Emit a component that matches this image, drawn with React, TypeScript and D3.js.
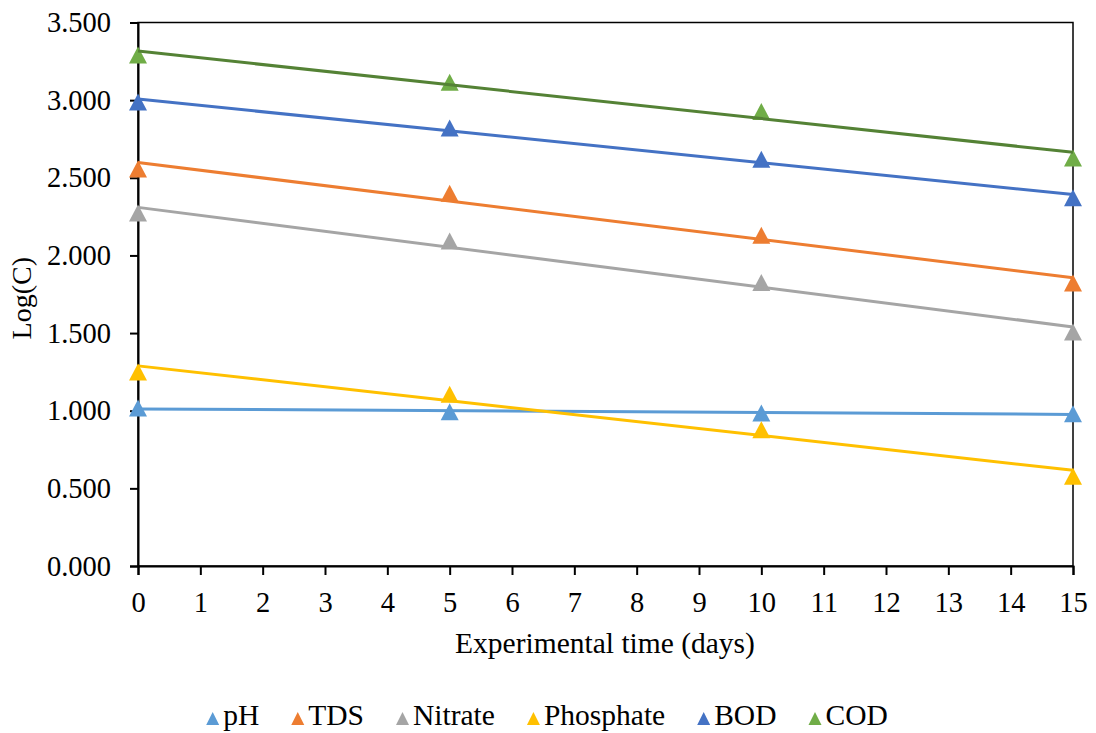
import React, { useEffect, useRef } from "react";
import * as d3 from "d3";

const days = [0, 5, 10, 15];
const seriesNames = ["pH", "TDS", "Nitrate", "Phosphate", "BOD", "COD"];
const pH = [1.017, 0.993, 0.986, 0.98];
const TDS = [2.556, 2.4, 2.13, 1.822];
const Nitrate = [2.273, 2.093, 1.825, 1.507];
const Phosphate = [1.249, 1.106, 0.877, 0.578];
const BOD = [2.988, 2.82, 2.619, 2.371];
const COD = [3.29, 3.115, 2.927, 2.628];
const markerColors = ["#5B9BD5", "#ED7D31", "#A5A5A5", "#FFC000", "#4472C4", "#70AD47"];
const lineColors = ["#5B9BD5", "#ED7D31", "#A5A5A5", "#FFC000", "#4472C4", "#548235"];
const xTicks = d3.range(0, 16);
const yTicks = [0, 0.5, 1, 1.5, 2, 2.5, 3, 3.5];

const W = 1096, H = 733;
const M = { left: 138, right: 1073, top: 22.5, bottom: 566 };
const FONT = "'Liberation Serif', 'Times New Roman', serif";

function tri(cx: number, cy: number, w: number, h: number) {
  return `M${cx},${cy - h / 2}L${cx + w / 2},${cy + h / 2}L${cx - w / 2},${cy + h / 2}Z`;
}

export default function App() {
  const ref = useRef<SVGSVGElement>(null);
  useEffect(() => {
    const svg = d3.select(ref.current);
    svg.selectAll("*").remove();
    const data = [pH, TDS, Nitrate, Phosphate, BOD, COD];
    const x = d3.scaleLinear().domain([0, 15]).range([M.left, M.right]);
    const y = d3.scaleLinear().domain([0, 3.5]).range([M.bottom, M.top]);

    const g = svg.append("g");
    g.append("rect").attr("x", M.left).attr("y", M.top).attr("width", M.right - M.left)
      .attr("height", M.bottom - M.top).attr("fill", "none").attr("stroke", "#000").attr("stroke-width", 1.5);

    const yAxis = d3.axisLeft(y).tickValues(yTicks).tickFormat(d3.format(".3f")).tickSize(8).tickPadding(19);
    const ya = g.append("g").attr("transform", `translate(${M.left},0)`).call(yAxis);
    const xAxis = d3.axisBottom(x).tickValues(xTicks).tickFormat(d3.format("d")).tickSize(9).tickPadding(17);
    const xa = g.append("g").attr("transform", `translate(0,${M.bottom})`).call(xAxis);
    [ya, xa].forEach((a) => {
      a.attr("font-size", null).attr("font-family", null);
      a.select(".domain").attr("stroke", "#000").attr("stroke-width", 2);
      a.selectAll(".tick line").attr("stroke", "#000").attr("stroke-width", 2);
      a.selectAll("text").attr("font-family", FONT).attr("font-size", 28.5).attr("fill", "#000");
    });

    g.append("text").attr("x", 605).attr("y", 653).attr("text-anchor", "middle")
      .attr("font-family", FONT).attr("font-size", 29.5).text("Experimental time (days)");
    g.append("text").attr("transform", `translate(31,${(M.top + M.bottom) / 2 + 4}) rotate(-90)`)
      .attr("text-anchor", "middle").attr("font-family", FONT).attr("font-size", 28).text("Log(C)");

    data.forEach((vals, i) => {
      g.append("g").selectAll("path").data(vals).join("path")
        .attr("d", (v, j) => tri(x(days[j]), y(v), 18, 17))
        .attr("fill", markerColors[i]);
    });
    data.forEach((vals, i) => {
      const mx = d3.mean(days)!;
      const my = d3.mean(vals)!;
      const sxy = d3.sum(days, (d, j) => (d - mx) * (vals[j] - my));
      const sxx = d3.sum(days, (d) => (d - mx) * (d - mx));
      const b = sxy / sxx;
      const a = my - b * mx;
      const line = d3.line<number>().x((d) => x(d)).y((d) => y(a + b * d));
      g.append("path").attr("d", line([0, 15])!).attr("stroke", lineColors[i])
        .attr("stroke-width", 3).attr("fill", "none");
    });

    const GAP = 32;
    const lg = svg.append("g");
    let cx = 0;
    seriesNames.forEach((name, i) => {
      const it = lg.append("g").attr("transform", `translate(${cx},0)`);
      it.append("path").attr("d", tri(6.5, -6.5, 13, 13)).attr("fill", markerColors[i]);
      const t = it.append("text").attr("x", 17).attr("y", 0).attr("font-family", FONT)
        .attr("font-size", 29.5).text(name);
      const tw = (t.node() as SVGTextElement).getComputedTextLength();
      cx += 17 + tw + GAP;
    });
    const total = cx - GAP;
    lg.attr("transform", `translate(${547 - total / 2},725)`);
  }, []);
  return (
    <svg ref={ref} width={W} height={H}
      style={{ position: "absolute", left: 0, top: 0, background: "#fff" }} />
  );
}
